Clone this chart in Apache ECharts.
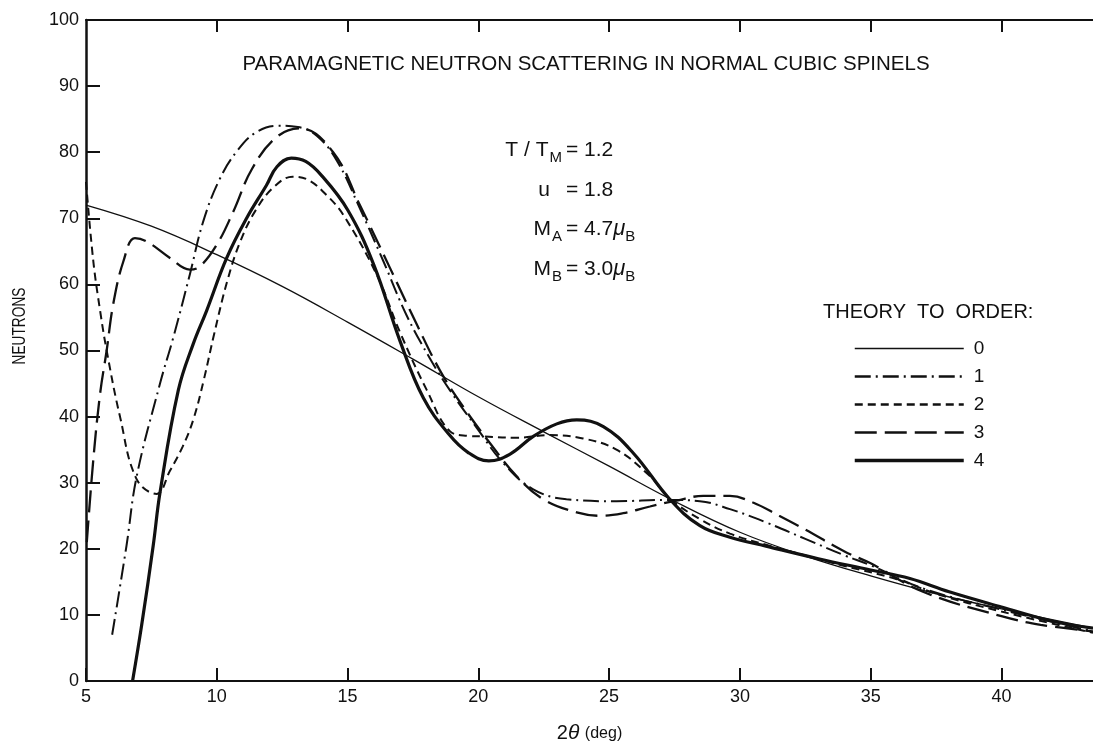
<!DOCTYPE html>
<html>
<head>
<meta charset="utf-8">
<script src="https://cdn.jsdelivr.net/npm/echarts@6/dist/echarts.min.js"></script>
<style>
html,body{margin:0;padding:0;background:#fff;}
#chart{width:1093px;height:749px;}
</style>
</head>
<body>
<div id="chart"></div>
<script>
// ---- data (2θ in degrees, neutron counts) ----
const seriesNames = ['0', '1', '2', '3', '4'];
const xTickValues = [5, 10, 15, 20, 25, 30, 35, 40];
const xTickLabels = ['5', '10', '15', '20', '25', '30', '35', '40'];
const yTickLabels = ['0', '10', '20', '30', '40', '50', '60', '70', '80', '90', '100'];

const order0 = [[5,72],[7.5,68.8],[10,64.5],[12.5,59.7],[15,54.3],[17.5,48.7],[20,43],[22.5,37.7],[25,32.5],[27.5,27.2],[30,22.5],[32.5,18.9],[35,15.9],[37.5,13.2],[40,10.9],[43.5,8]];

const order1 = [[6.0,7],[6.55,20.5],[6.94,31],[7.83,45],[8.34,52],[8.97,61.5],[9.48,69.5],[10.12,76],[10.8,80.3],[11.5,83],[12.3,84],[13.1,83.8],[13.82,82.5],[14.58,78.8],[15.47,71.5],[16.37,63.5],[17.26,55.3],[18.15,48.8],[18.91,44],[19.94,38.3],[20.95,33],[22.1,29],[23.37,27.5],[25.28,27.2],[27.2,27.4],[28.47,27.2],[29.62,26],[31,24],[32.5,21.5],[34,19],[35,17.5],[37,14],[40,10.8],[43.5,7.5]];

const order2 = [[5,75.5],[5.28,63.5],[5.54,56],[5.79,50],[6.3,40],[6.94,30.5],[7.7,28.3],[8.21,31.8],[8.7,35.5],[9.1,39.5],[9.5,45.5],[9.9,52.5],[10.4,60.5],[10.9,66.5],[11.5,71.3],[12.2,74.8],[12.9,76.3],[13.5,75.8],[14.2,73.5],[14.84,70.5],[16.11,61.5],[17,52.8],[18.03,44],[18.91,37.8],[19.6,37.1],[20.19,37],[21.46,36.8],[22.74,37.2],[24,36.7],[25.28,35],[26.56,31],[27.32,27.6],[28.47,24.5],[29.62,22.3],[31,20.6],[32.5,19],[34,17.4],[36,15.4],[37.5,13.2],[40,10.5],[43.5,7.3]];

const order3 = [[5.03,21],[5.28,33.5],[5.54,43.5],[5.79,50],[6.04,57],[6.43,63.5],[6.87,67],[7.32,66.5],[8.21,64],[8.97,62.25],[9.36,62.75],[10,66],[10.63,71],[11.35,77.5],[12.29,82.3],[13.2,83.6],[14.45,80],[15.47,72],[16.62,62.5],[17.64,54],[18.53,47],[19.42,41.5],[20.44,36],[21.46,31],[22.48,27.5],[23.76,25.5],[24.65,25],[25.54,25.4],[26.56,26.4],[27.58,27.3],[28.6,28],[29.62,28],[30.5,27],[31.5,25],[32.5,22.9],[34,19.6],[35,17.8],[37,13.5],[40,9.8],[41.5,8.5],[43.5,7.5]];

const order4 = [[6.78,0],[7.13,8.5],[7.57,20.5],[7.83,28.5],[8.53,44],[9.1,51],[9.61,56],[10.38,64],[11.14,70],[11.9,75],[12.3,77.8],[12.85,79.1],[13.4,78.6],[14.0,76.5],[15.0,71.3],[16.0,63],[17.0,51.5],[17.9,42.8],[18.9,37.2],[19.6,34.6],[20.4,33.3],[21.2,34.3],[22.1,37],[23.0,38.9],[23.76,39.5],[24.78,38.5],[25.92,34.5],[27.32,27.5],[28.47,23.5],[29.62,21.75],[31,20.4],[33,18.5],[35,16.8],[36.5,15.5],[38,13.5],[40,11.2],[42,9],[43.5,8]];

const allSeries = [order0, order1, order2, order3, order4];

// ---- styling ----
const INK = '#111';
const FONT = "'Liberation Sans', Arial, sans-serif";
const lineStyles = [
  {width: 1.3, type: 'solid'},
  {width: 2, type: [16, 5, 2, 5]},
  {width: 2, type: [8, 5]},
  {width: 2.3, type: [22, 8]},
  {width: 3.2, type: 'solid'}
];

const chart = echarts.init(document.getElementById('chart'), null, {renderer: 'canvas'});

const xLabelMap = {};
xTickValues.forEach((v, i) => { xLabelMap[v] = xTickLabels[i]; });

const subRich = {s: {fontSize: 15, padding: [15, 0, 0, 1], fontFamily: FONT, fill: INK}};
const muRich = {m: {fontSize: 22, fontStyle: 'italic', fontFamily: FONT, fill: INK},
                s: {fontSize: 15, padding: [15, 0, 0, 0], fontFamily: FONT, fill: INK}};

const option = {
  backgroundColor: '#fff',
  animation: false,
  grid: {left: 86, right: 0, top: 20, bottom: 62, containLabel: false},
  xAxis: [
    {
      type: 'value', min: 5, max: 43.5, interval: 5, position: 'bottom',
      axisLine: {show: true, lineStyle: {color: INK, width: 2}},
      axisTick: {show: true, inside: true, length: 13, customValues: xTickValues, lineStyle: {color: INK, width: 2}},
      axisLabel: {show: true, customValues: xTickValues, margin: 7, fontSize: 18, color: INK, fontFamily: FONT,
        formatter: v => (xLabelMap[v] !== undefined ? xLabelMap[v] : '')},
      splitLine: {show: false},
      name: '2{i|θ} {s|(deg)}',
      nameLocation: 'middle', nameGap: 42,
      nameTextStyle: {color: INK, fontSize: 20, fontFamily: FONT,
        rich: {i: {fontSize: 21, fontStyle: 'italic', fontFamily: FONT, color: INK},
               s: {fontSize: 16, fontFamily: FONT, color: INK}}}
    },
    {
      type: 'value', min: 5, max: 43.5, interval: 5, position: 'top',
      axisLine: {show: true, lineStyle: {color: INK, width: 2}},
      axisTick: {show: true, inside: true, length: 12, customValues: [10, 15, 20, 25, 30, 35, 40], lineStyle: {color: INK, width: 2}},
      axisLabel: {show: false},
      splitLine: {show: false}
    }
  ],
  yAxis: {
    type: 'value', min: 0, max: 100, interval: 10,
    axisLine: {show: true, lineStyle: {color: INK, width: 2.5}},
    axisTick: {show: true, inside: true, length: 14, lineStyle: {color: INK, width: 2}},
    axisLabel: {margin: 7, fontSize: 18, color: INK, fontFamily: FONT,
      formatter: v => yTickLabels[Math.round(v / 10)]},
    splitLine: {show: false}
  },
  legend: {
    data: seriesNames.map((n, i) => ({name: n, lineStyle: {width: lineStyles[i].width + 0.3}})),
    orient: 'vertical',
    left: 853, top: 339,
    padding: 0,
    itemWidth: 109, itemHeight: 14, itemGap: 9,
    selectedMode: false,
    lineStyle: {width: 'inherit'},
    itemStyle: {color: 'rgba(0,0,0,0)', borderColor: 'rgba(0,0,0,0)', borderWidth: 0},
    textStyle: {fontSize: 19, color: INK, fontFamily: FONT, padding: [0, 0, 0, 5]}
  },
  graphic: [
    {type: 'text', x: 586, y: 64, style: {text: 'PARAMAGNETIC NEUTRON SCATTERING IN NORMAL CUBIC SPINELS',
      font: '20.5px ' + FONT, fill: INK, align: 'center', verticalAlign: 'middle'}},
    {type: 'text', x: 20, y: 326, rotation: Math.PI / 2, scaleX: 0.72, style: {text: 'NEUTRONS',
      font: '19px ' + FONT, fill: INK, align: 'center', verticalAlign: 'middle'}},
    {type: 'text', x: 823, y: 312, style: {text: 'THEORY  TO  ORDER:', font: '20px ' + FONT, fill: INK, align: 'left', verticalAlign: 'middle'}},
    // parameter block: left parts right-aligned, right parts start with "="
    {type: 'text', x: 562, y: 150, style: {text: 'T / T{s|M}', rich: subRich,
      font: '21px ' + FONT, fill: INK, align: 'right', verticalAlign: 'middle'}},
    {type: 'text', x: 566, y: 150, style: {text: '= 1.2', font: '21px ' + FONT, fill: INK, align: 'left', verticalAlign: 'middle'}},
    {type: 'text', x: 550, y: 190, style: {text: 'u', font: '21px ' + FONT, fill: INK, align: 'right', verticalAlign: 'middle'}},
    {type: 'text', x: 566, y: 190, style: {text: '= 1.8', font: '21px ' + FONT, fill: INK, align: 'left', verticalAlign: 'middle'}},
    {type: 'text', x: 562, y: 229, style: {text: 'M{s|A}', rich: subRich,
      font: '21px ' + FONT, fill: INK, align: 'right', verticalAlign: 'middle'}},
    {type: 'text', x: 566, y: 229, style: {text: '= 4.7{m|μ}{s|B}', rich: muRich,
      font: '21px ' + FONT, fill: INK, align: 'left', verticalAlign: 'middle'}},
    {type: 'text', x: 562, y: 269, style: {text: 'M{s|B}', rich: subRich,
      font: '21px ' + FONT, fill: INK, align: 'right', verticalAlign: 'middle'}},
    {type: 'text', x: 566, y: 269, style: {text: '= 3.0{m|μ}{s|B}', rich: muRich,
      font: '21px ' + FONT, fill: INK, align: 'left', verticalAlign: 'middle'}}
  ],
  series: allSeries.map((d, i) => ({
    name: seriesNames[i],
    type: 'line',
    xAxisIndex: 0,
    data: d,
    smooth: 0.4,
    showSymbol: false,
    symbol: 'none',
    clip: true,
    lineStyle: Object.assign({color: INK, cap: 'butt'}, lineStyles[i]),
    itemStyle: {color: INK},
    emphasis: {disabled: true}
  }))
};

chart.setOption(option);
</script>
</body>
</html>
